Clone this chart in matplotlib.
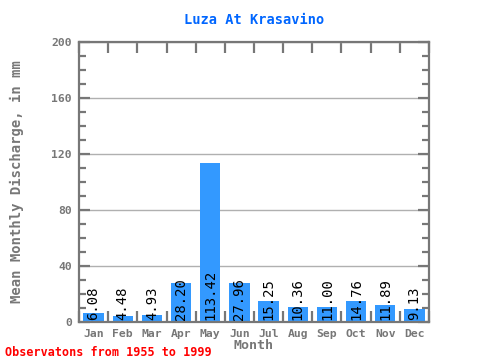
import numpy as np
import matplotlib as mpl; mpl.use("Agg")
import matplotlib.pyplot as plt

months = ["Jan", "Feb", "Mar", "Apr", "May", "Jun", "Jul", "Aug", "Sep", "Oct", "Nov", "Dec"]
values = [6.08, 4.48, 4.93, 28.20, 113.42, 27.96, 15.25, 10.36, 11.00, 14.76, 11.89, 9.13]
yticks = [0, 40, 80, 120, 160, 200]

GRAY = "#777777"
MONO = "DejaVu Sans Mono"

fig = plt.figure(figsize=(4.8, 3.6), dpi=100)
ax = fig.add_axes([79 / 480, 38 / 360, 350 / 480, 280 / 360])

x = np.arange(len(months))
ax.bar(x, values, width=0.7, color="#3399ff", zorder=2)
for xi, v in zip(x, values):
    ax.text(xi, 1.5, f"{v:.2f}", rotation=90, ha="center", va="bottom",
            fontsize=10, family=MONO, color="black", zorder=3)

ax.set_xlim(-0.5, 11.5)
ax.set_ylim(0, 200)
ax.set_yticks(yticks)
ax.set_yticks(np.arange(0, 201, 10), minor=True)
ax.set_xticks(x)
ax.set_xticklabels(months)
ax.set_xticks(np.arange(-0.5, 12, 1), minor=True)
ax.grid(axis="y", color="#b0b0b0", lw=1, zorder=1)
for s in ax.spines.values():
    s.set_color(GRAY); s.set_linewidth(1.6)
ax.tick_params(axis="y", which="major", direction="in", length=8, width=1.6, color=GRAY,
               right=True, labelsize=8.2, labelcolor=GRAY, pad=5)
ax.tick_params(axis="y", which="minor", direction="in", length=5, width=1.6, color=GRAY, right=True)
ax.tick_params(axis="x", which="major", length=0, labelsize=8.2, labelcolor=GRAY, pad=5)
ax.tick_params(axis="x", which="minor", direction="in", length=8, width=1.6, color=GRAY, top=True)
for lab in ax.get_xticklabels() + ax.get_yticklabels():
    lab.set_family(MONO); lab.set_weight("bold")

ax.set_title("Luza At Krasavino", fontsize=9.8, weight="bold", color="#0066ff",
             family=MONO, pad=13)
ax.set_xlabel("Month", fontsize=9.5, weight="bold", color=GRAY, family=MONO, labelpad=0)
ax.set_ylabel("Mean Monthly Discharge, in mm", fontsize=10, weight="bold", color=GRAY,
              family=MONO, labelpad=20)
fig.text(5 / 480, 1 - 352 / 360, "Observatons from 1955 to 1999", fontsize=8.5,
         weight="bold", color="red", family=MONO, va="center", ha="left")

fig.savefig("out.png", dpi=100, facecolor="white")
